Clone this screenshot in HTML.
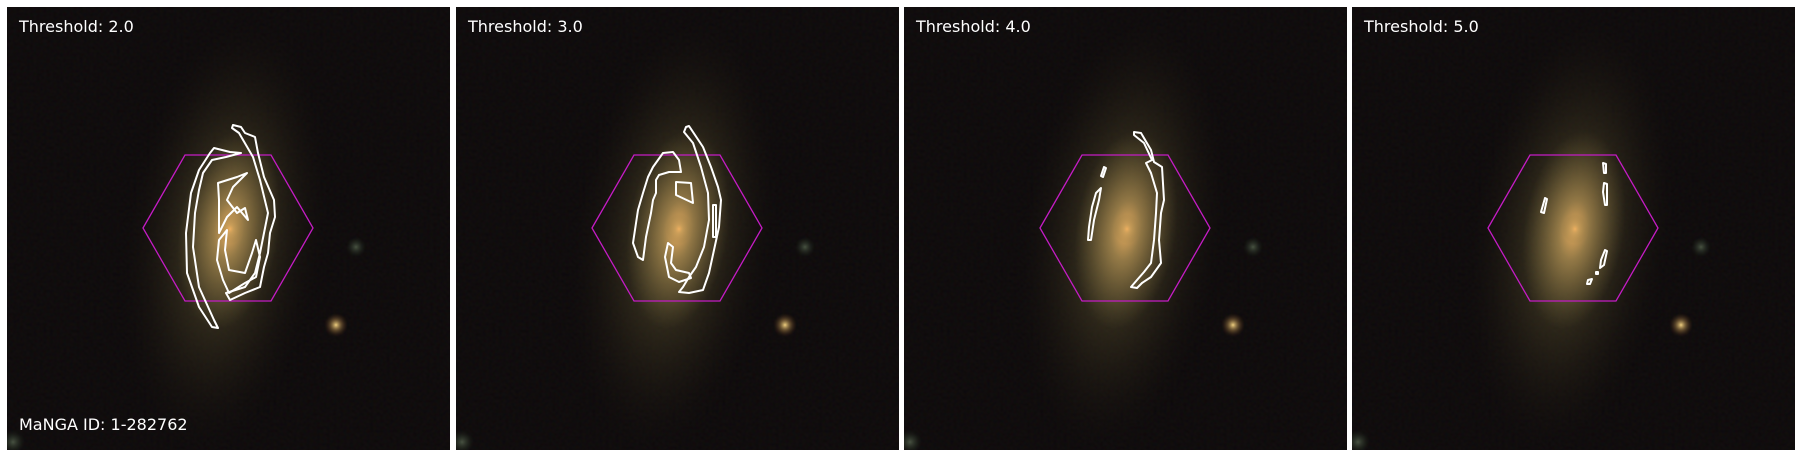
<!DOCTYPE html>
<html><head><meta charset="utf-8"><style>
html,body{margin:0;padding:0;background:#fff;}
svg{display:block;}
text{font-family:"DejaVu Sans","Liberation Sans",sans-serif;fill:#fff;}
</style></head><body>
<svg id="fig" width="1800" height="457" viewBox="0 0 1800 457" xmlns="http://www.w3.org/2000/svg">
<defs>
<radialGradient id="halo" cx="0.5" cy="0.5" r="0.5">
<stop offset="0" stop-color="#9a8a50" stop-opacity="0.6"/>
<stop offset="0.4" stop-color="#5e5430" stop-opacity="0.4"/>
<stop offset="1" stop-color="#201a10" stop-opacity="0"/>
</radialGradient>
<radialGradient id="core" cx="0.5" cy="0.5" r="0.5">
<stop offset="0" stop-color="#f0b060" stop-opacity="0.95"/>
<stop offset="0.3" stop-color="#c09a58" stop-opacity="0.6"/>
<stop offset="1" stop-color="#807040" stop-opacity="0"/>
</radialGradient>
<radialGradient id="star" cx="0.5" cy="0.5" r="0.5">
<stop offset="0" stop-color="#f0d080"/>
<stop offset="0.45" stop-color="#907040" stop-opacity="0.6"/>
<stop offset="1" stop-color="#402010" stop-opacity="0"/>
</radialGradient>
<radialGradient id="star2" cx="0.5" cy="0.5" r="0.5">
<stop offset="0" stop-color="#607058" stop-opacity="0.7"/>
<stop offset="1" stop-color="#203020" stop-opacity="0"/>
</radialGradient>
<filter id="noise" x="0" y="0" width="100%" height="100%">
<feTurbulence type="fractalNoise" baseFrequency="0.3" numOctaves="1" seed="3"/>
<feColorMatrix values="0.2 0 0 0 0  0 0.14 0 0 0  0 0 0.16 0 0  0 0 0 0 0.12"/>
</filter>
<clipPath id="pc"><rect x="0" y="7" width="443" height="443"/></clipPath>
</defs>
</svg>
<script>
const panelLefts = [7, 456, 904, 1352];
const thresholds = ["2.0", "3.0", "4.0", "5.0"];
const contours = [
  [
    [[226,125],[234,127],[238,133],[248,137],[251,153],[257,177],[267,200],[268,217],[263,233],[261,253],[257,267],[253,287],[238,293],[223,300],[219,293],[238,287],[248,273],[253,253],[257,233],[261,213],[253,180],[246,157],[232,133],[225,128]],
    [[207,148],[223,152],[234,153],[219,157],[205,160],[196,173],[192,190],[188,213],[186,247],[192,287],[207,320],[211,328],[205,327],[192,307],[180,273],[179,233],[184,193],[192,170],[203,153]],
    [[211,183],[230,177],[240,173],[226,187],[220,200],[230,213],[238,208],[241,220],[230,207],[220,217],[212,233],[212,200]],
    [[212,240],[220,230],[218,250],[222,270],[238,273],[245,253],[249,240],[253,257],[249,277],[238,283],[222,293],[216,280],[210,260]]
  ],
  [
    [[230,127],[233,126],[247,147],[255,167],[262,187],[265,200],[263,227],[258,250],[253,273],[247,290],[233,293],[223,292],[227,287],[233,277],[240,267],[248,247],[253,220],[252,193],[245,167],[237,143],[228,132]],
    [[212,243],[217,247],[215,263],[220,270],[233,273],[235,278],[223,282],[213,277],[209,257]],
    [[207,153],[217,152],[223,160],[225,172],[213,172],[203,175],[200,180],[200,193],[197,200],[195,213],[190,237],[187,260],[182,257],[177,243],[182,210],[187,193],[192,177],[197,167]],
    [[220,182],[235,183],[237,203],[220,195]],
    [[257,205],[260,205],[260,237],[257,237]]
  ],
  [
    [[230,132],[237,133],[247,150],[250,162],[258,167],[260,200],[257,213],[255,240],[257,263],[247,277],[238,283],[233,288],[227,287],[233,280],[240,272],[247,263],[250,240],[252,213],[253,193],[247,173],[242,163],[248,160],[240,143],[230,135]],
    [[200,167],[202,168],[199,177],[197,176]],
    [[197,188],[195,200],[190,220],[187,240],[184,240],[185,227],[188,207],[192,193]]
  ],
  [
    [[251,163],[254,164],[254,173],[252,173]],
    [[252,183],[255,184],[255,205],[253,205],[251,192]],
    [[193,198],[195,199],[192,213],[189,212]],
    [[253,250],[255,251],[252,265],[248,268],[249,260]],
    [[244,272],[246,272],[246,274],[244,274]],
    [[236,280],[240,279],[238,284],[235,284]]
  ]
];
const NS = "http://www.w3.org/2000/svg";
const fig = document.getElementById("fig");
function mk(tag, attrs, parent){const e=document.createElementNS(NS,tag);for(const k in attrs)e.setAttribute(k,attrs[k]);parent.appendChild(e);return e;}
panelLefts.forEach((px, i) => {
  const g = mk("g", {transform:"translate("+px+",0)"}, fig);
  
  
  const c = mk("g", {"clip-path":"url(#pc)"}, g);
  const bg = mk("rect", {x:0,y:7,width:443,height:443,fill:"#060404"}, c);
  
  
  mk("rect", {x:0,y:7,width:443,height:443,filter:"url(#noise)"}, c);
  const gal = mk("g", {}, c);
  
  
  mk("ellipse", {cx:218,cy:235,rx:100,ry:215,fill:"url(#halo)",transform:"rotate(8 218 235)"}, gal);
  mk("ellipse", {cx:222,cy:230,rx:50,ry:100,fill:"url(#core)",transform:"rotate(8 222 230)"}, gal);
  mk("ellipse", {cx:223,cy:229,rx:13,ry:15,fill:"url(#core)"}, gal);
  const st = mk("circle", {cx:329,cy:325,r:12,fill:"url(#star)"}, c);
  
  
  mk("circle", {cx:349,cy:247,r:10,fill:"url(#star2)"}, c);
  mk("circle", {cx:6,cy:442,r:12,fill:"url(#star2)"}, c);
  const hex = mk("polygon", {points:"136,228 178,155 264,155 306,228 264,301 178,301",fill:"none",stroke:"#c41cc4","stroke-width":1.3}, c);
  
  
  contours[i].forEach(pts => {
    const p = mk("polygon", {points:pts.map(q=>q.join(",")).join(" "),fill:"none",stroke:"#fff","stroke-width":2,"stroke-linejoin":"round"}, c);
    
    
  });
  const t = mk("text", {x:12,y:32,"font-size":16}, g);
  t.textContent = "Threshold: " + thresholds[i];
  
  
  if (i === 0) {
    const m = mk("text", {x:12,y:430,"font-size":16}, g);
    m.textContent = "MaNGA ID: 1-282762";
    
    
  }
});
</script>
</body></html>
